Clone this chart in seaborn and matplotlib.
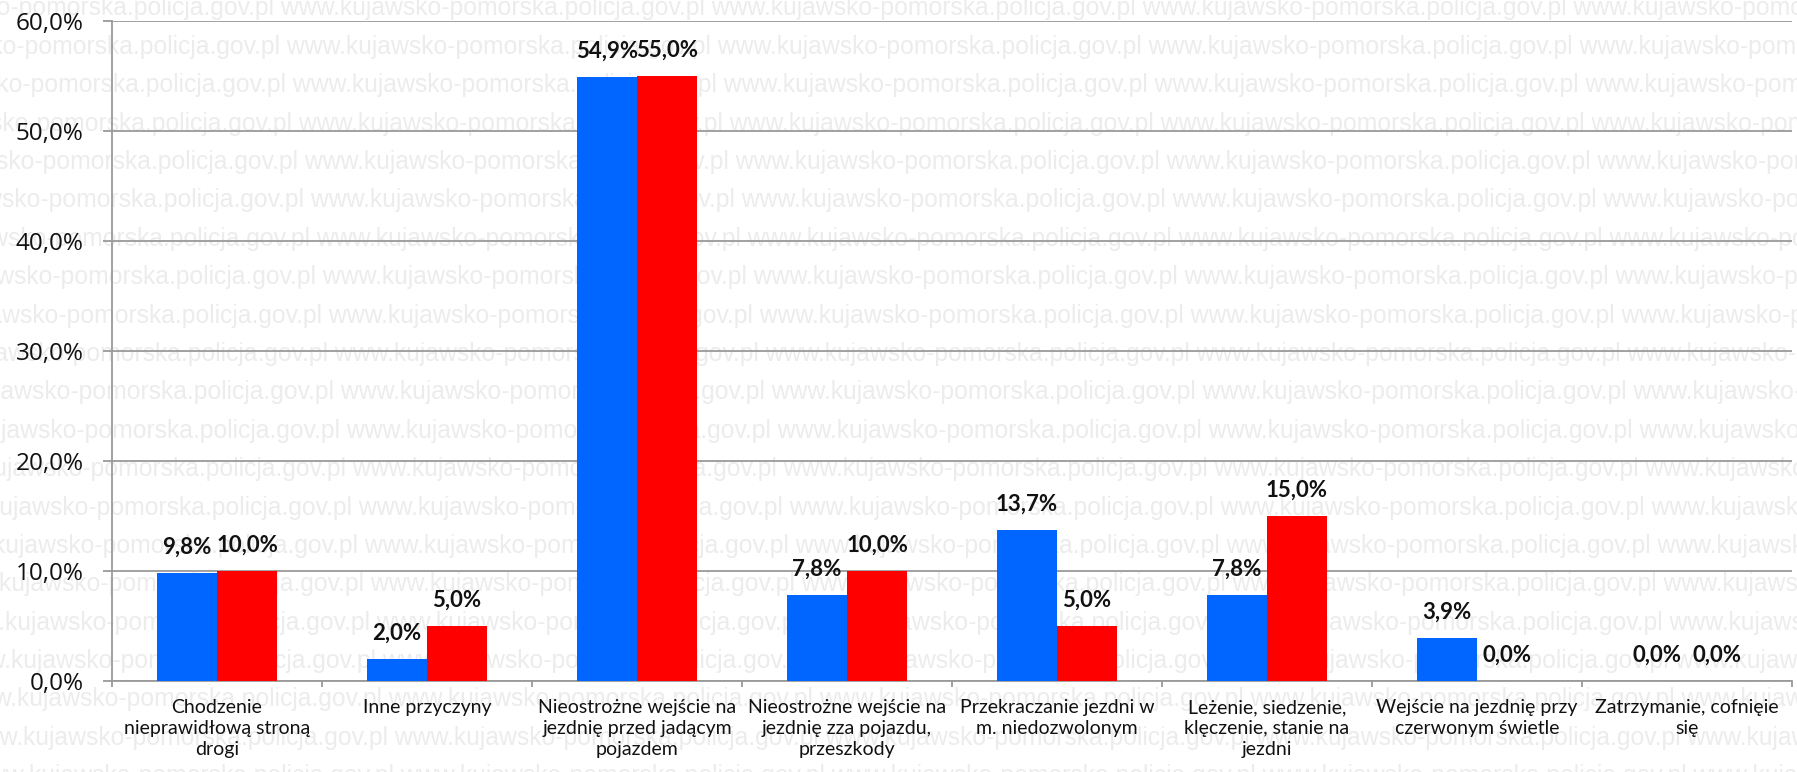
import matplotlib
matplotlib.use("Agg")
import matplotlib.pyplot as plt
import seaborn as sns
import pandas as pd
import numpy as np

# ---- data ----
categories = [
    "Chodzenie\nnieprawidłową stroną\ndrogi",
    "Inne przyczyny",
    "Nieostrożne wejście na\njezdnię przed jadącym\npojazdem",
    "Nieostrożne wejście na\njezdnię zza pojazdu,\nprzeszkody",
    "Przekraczanie jezdni w\nm. niedozwolonym",
    "Leżenie, siedzenie,\nklęczenie, stanie na\njezdni",
    "Wejście na jezdnię przy\nczerwonym świetle",
    "Zatrzymanie, cofnięie\nsię",
]
series_names = ["Seria 1", "Seria 2"]
blue_values = [9.8, 2.0, 54.9, 7.8, 13.7, 7.8, 3.9, 0.0]
red_values = [10.0, 5.0, 55.0, 10.0, 5.0, 15.0, 0.0, 0.0]
y_ticks = [0, 10, 20, 30, 40, 50, 60]
watermark = "www.kujawsko-pomorska.policja.gov.pl"

colors = ["#0066ff", "#ff0000"]

df = pd.DataFrame({
    "kategoria": categories * 2,
    "seria": [series_names[0]] * len(categories) + [series_names[1]] * len(categories),
    "wartosc": blue_values + red_values,
})

sns.set_theme(style="white")
plt.rcParams["font.family"] = ["Lato", "DejaVu Sans"]

W, H = 1797, 772
fig = plt.figure(figsize=(W / 100, H / 100), dpi=100)
fig.patch.set_facecolor("white")

# ---- watermark background ----
period_px = 437
row_step = 38.4
n_rows = int(H / row_step) + 2
for i in range(n_rows):
    yc = 8.3 + i * row_step
    start = (287 + 6 * i) % period_px - period_px
    fig.text(start / W, 1 - yc / H, (watermark + " ") * 6,
             fontsize=17.8, color="#ececec", family=["Liberation Sans", "DejaVu Sans"],
             ha="left", va="center", zorder=0)

ax = fig.add_axes([112 / W, (H - 681) / H, (1792 - 112) / W, (681 - 21) / H])
ax.set_zorder(5)
ax.patch.set_alpha(0)

sns.barplot(data=df, x="kategoria", y="wartosc", hue="seria", palette=colors,
            width=0.571, gap=0, legend=False, ax=ax, saturation=1, zorder=3,
            edgecolor="none", linewidth=0)

ax.set_xlim(-0.5, len(categories) - 0.5)
ax.set_ylim(0, 60)
ax.set_yticks(y_ticks)
ax.set_yticklabels([f"{v:.1f}%".replace(".", ",") for v in y_ticks],
                   fontsize=17.5, family=["Open Sans", "DejaVu Sans"], color="#111111")
ax.grid(axis="y", color="#9a9a9a", linewidth=1.3, zorder=1)
ax.grid(axis="x", visible=False)
ax.set_axisbelow(True)

for s in ["top", "right"]:
    ax.spines[s].set_visible(False)
for s in ["left", "bottom"]:
    ax.spines[s].set_color("#9a9a9a")
    ax.spines[s].set_linewidth(1.3)

ax.tick_params(axis="y", which="major", length=6.5, width=1.3, color="#9a9a9a", pad=14, left=True)
ax.set_xticks(range(len(categories)))
ax.set_xticklabels(categories, fontsize=14, color="#111111", linespacing=1.3)
ax.set_xticks(np.arange(-0.5, len(categories), 1.0), minor=True)
ax.tick_params(axis="x", which="major", length=0, pad=13)
ax.tick_params(axis="x", which="minor", length=4, width=1.3, color="#9a9a9a", bottom=True)
ax.set_xlabel("")
ax.set_ylabel("")

# ---- value labels ----
for cont in ax.containers:
    for bar in cont:
        h = bar.get_height()
        ax.annotate(f"{h:.1f}%".replace(".", ","),
                    (bar.get_x() + bar.get_width() / 2, h),
                    xytext=(0, 14), textcoords="offset points",
                    ha="center", va="baseline", fontsize=16, fontweight="bold",
                    color="#111111", zorder=5)

fig.savefig("out.png", dpi=100, facecolor="white")
